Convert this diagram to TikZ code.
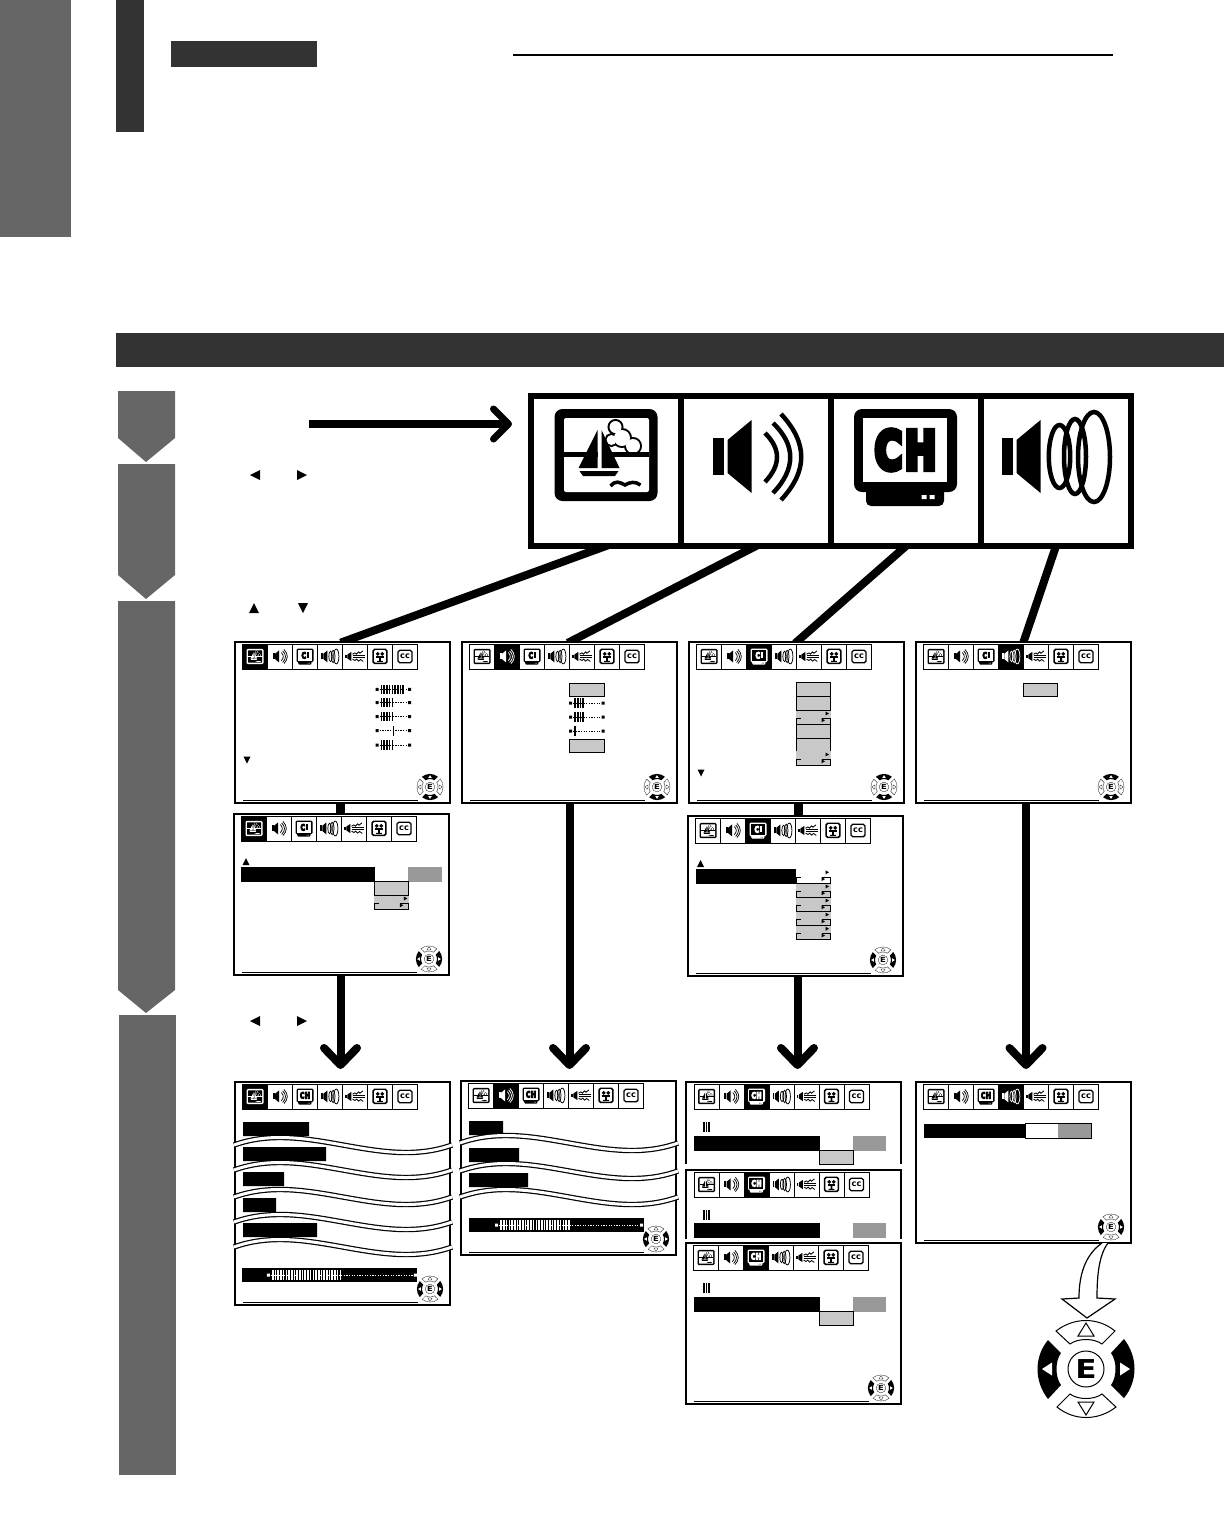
\documentclass[tikz,border=0pt]{standalone}
\usepackage{fontspec}
\usetikzlibrary{arrows.meta,positioning,backgrounds}
\newfontfamily\iconfont{DejaVu Sans Bold}
\newfontfamily\tvfont[FakeBold=12]{DejaVu Sans Bold}
\definecolor{stepgray}{HTML}{666666}
\definecolor{headgray}{HTML}{333333}
\definecolor{boxgray}{HTML}{C8C8C8}
\definecolor{midgray}{HTML}{999999}
\colorlet{iconfg}{black}
\colorlet{iconbg}{white}
\tikzset{
  panelcell/.style={draw,fill=white,line width=6pt,minimum width=150pt,minimum height=150pt,outer sep=0pt,inner sep=0pt},
  screen/.style={draw,fill=white,line width=2.5pt,minimum width=215pt,anchor=north west,outer sep=0pt,inner sep=0pt},
  hairrule/.style={line width=1pt},
  icontext/.style={text=iconfg,inner sep=0pt},
  link/.style={line width=8pt},
  linkhead/.style={line width=8pt,-{Straight Barb[length=17pt,width=33pt,line width=8pt,round]}},
  wave/.style={line width=1.2pt,double=white,double distance=3pt}
}
% big icons, drawn round (0,0)
\newcommand{\boaticon}{%
  \fill[iconfg,rounded corners=8pt] (-51.5,-46) rectangle (51.5,46);
  \fill[iconbg,rounded corners=2pt] (-42,-37) rectangle (43,37);
  \foreach \cx/\cy/\cr in {9.5/-28/6,16/-17/8,5.5/-15/5,27/-9/7}{\draw[iconfg,line width=4pt] (\cx,\cy) circle[radius=\cr];}
  \foreach \cx/\cy/\cr in {9.5/-28/6,16/-17/8,5.5/-15/5,27/-9/7}{\fill[iconbg] (\cx,\cy) circle[radius=\cr];}
  \fill[iconbg] (-1,-3) rectangle (40,3);
  \fill[iconfg] (-42,-3) rectangle (43,1.5);
  \fill[iconfg] (-8.5,-25) -- (-27.5,13) -- (-8.5,13) -- cycle;
  \fill[iconbg] (-8.5,-25) rectangle (-4.5,13);
  \fill[iconfg] (-4.5,-25) -- (13.5,13) -- (-4.5,13) -- cycle;
  \fill[iconfg] (-26.5,16) -- (12.5,16) -- (9,21) -- (-23,21) -- cycle;
  \draw[iconfg,line width=3.5pt] (4.5,31) .. controls (10,25) and (13,27) .. (19,30) .. controls (24,27) and (29,26) .. (34.5,30);
}
\newcommand{\conepart}{%
  \fill[iconfg] (-44,-19) rectangle (-33,18);
  \fill[iconfg] (-29.5,-17) -- (-5.4,-37) -- (-5.4,36) -- (-29.5,16) -- cycle;
}
\newcommand{\soundicon}{%
  \conepart
  \draw[iconfg,line width=4.5pt] (8,-24) .. controls (24,-8) and (24,8) .. (8,25);
  \draw[iconfg,line width=4.5pt] (16,-34) .. controls (39,-12) and (39,12) .. (16,36);
  \draw[iconfg,line width=4.5pt] (24,-43) .. controls (51,-14) and (51,14) .. (24,43);
}
\newcommand{\tvlabel}{C\kern.07em H}
\newcommand{\blocklabel}{C\kern.1em\rule{.3em}{.73em}}
\newcommand{\tvicon}{%
  \fill[iconfg,rounded corners=8pt] (-51.5,-48) rectangle (51.5,35);
  \fill[iconbg] (-42.5,-39) rectangle (41.5,25);
  \fill[iconfg,rounded corners=5pt] (-39.5,30) rectangle (38.5,49);
  \fill[iconfg] (-39.5,30) rectangle (38.5,40);
  \fill[iconbg] (16,38) rectangle (21,42) (24,38) rectangle (29,42);
  \node[icontext] (tvtext) at (0,-7) {\tvfont\fontsize{52}{54}\selectfont\scalebox{.72}[1]{\tvlabel}};
}
\newcommand{\surroundicon}{%
  \begin{scope}[xshift=-10pt]\conepart\end{scope}
  \draw[iconfg,line width=4.5pt] (3.5,-.5) ellipse[x radius=10.7,y radius=31.5];
  \draw[iconfg,line width=4.5pt] (19,-.5) ellipse[x radius=11,y radius=37.5];
  \draw[iconfg,line width=4.5pt] (38,0) ellipse[x radius=16,y radius=45];
}
\newcommand{\wavesicon}{%
  \fill[iconfg] (-60,-12) rectangle (-50,12);
  \fill[iconfg] (-46,-12) -- (-22,-28) -- (-22,28) -- (-46,12) -- cycle;
  \draw[iconfg,line width=5pt] (-15,-14) -- (0,-22) -- (8,-14) -- (22,-28) -- (30,-20) -- (48,-34);
  \draw[iconfg,line width=5pt] (-15,-6) -- (58,-6) (-15,6) -- (58,6);
  \draw[iconfg,line width=5pt] (-15,16) -- (0,24) -- (10,16) -- (22,28) -- (34,18) -- (50,30);
}
\newcommand{\movieicon}{%
  \draw[iconfg,line width=9pt,rounded corners=10pt] (-42,-44) rectangle (42,42);
  \fill[iconfg] (-14,-16) circle[radius=12] (14,-16) circle[radius=12];
  \fill[iconfg] (-22,-6) rectangle (24,10);
  \fill[iconfg] (-6,10) rectangle (6,26) (-18,26) rectangle (18,32);
}
\newcommand{\ccicon}{%
  \draw[iconfg,line width=8pt,rounded corners=10pt] (-42,-38) rectangle (42,38);
  \node[icontext] (cctext) at (0,-3) {\iconfont\fontsize{50}{52}\selectfont cc};
}
% one row of seven small icons
\newcommand{\menubar}[4]{%
  \renewcommand{\tvlabel}{#4}%
  \foreach \n/\ic in {1/\boaticon,2/\soundicon,3/\tvicon,4/\surroundicon,5/\wavesicon,6/\movieicon,7/\ccicon}{
    \ifnum\n=#3\relax \colorlet{iconfg}{white}\colorlet{iconbg}{black}\fi
    \draw[fill=iconbg,line width=.8pt] (#1+25*\n-25,#2) rectangle +(25,25);
    \begin{scope}[transform canvas={shift={(#1+25*\n-12.5,#2+12.5)},scale=.165}]
      \ic
    \end{scope}
  }
}
% pad: filled buttons, then open buttons
\newcommand{\dpadicon}[2]{%
  \foreach \a in {#1}{
    \begin{scope}[rotate=\a]
      \fill (-38,-29) -- (-25,-16) .. controls (-31,-8) and (-31,8) .. (-25,16) -- (-38,30) .. controls (-52,12) and (-52,-12) .. (-38,-29) -- cycle;
      \fill[white] (-44,0) -- (-34,-6.5) -- (-34,6.5) -- cycle;
    \end{scope}
  }
  \foreach \a in {#2}{
    \begin{scope}[rotate=\a]
      \draw[line width=1pt] (-38,-29) -- (-25,-16) .. controls (-31,-8) and (-31,8) .. (-25,16) -- (-38,30) .. controls (-52,12) and (-52,-12) .. (-38,-29) -- cycle;
      \draw[line width=1pt] (-46,0) -- (-33,-8) -- (-33,8) -- cycle;
    \end{scope}
  }
  \draw[line width=1pt] (0,0) circle[radius=18];
  \node[inner sep=0pt] (padtext) at (0,0) {\iconfont\fontsize{26}{28}\selectfont\scalebox{1.2}[1]{E}};
}
\newcommand{\padud}{\dpadicon{90,270}{0,180}}
\newcommand{\padlr}{\dpadicon{0,180}{90,270}}
\newcommand{\smallpad}[3]{%
  \begin{scope}[transform canvas={shift={(#1,#2)},scale=.27}]
    #3
  \end{scope}
}
\newcommand{\tvscreen}[7]{%
  \node[screen,minimum height=#4pt] (#1) at (#2,#3) {};
  \menubar{#2+7.5}{#3+2}{#5}{#6}
  \draw[hairrule] (#2+8,#3+#4-3) -- (#2+183,#3+#4-3);
  \smallpad{#2+195}{#3+#4-16}{#7}
}
\newcommand{\levelbar}[5]{%
  \fill[#5] (#1-1.5,#2-1.5) rectangle +(3,3) (#1+#3-1.5,#2-1.5) rectangle +(3,3);
  \draw[#5,line width=1pt,dash pattern=on 1.3pt off 1.3pt] (#1,#2) -- (#1+#3,#2);
  \ifnum#4>0
    \foreach \t in {1,...,#4}{\fill[#5] (#1+1+2.7*\t,#2-4.7) rectangle +(1.6,9.4);}
  \fi
}
\newcommand{\graybox}[3]{\draw[fill=boxgray,line width=1pt] (#1,#2) rectangle (#1+34.5,#3);}
\newcommand{\bracketbox}[3]{%
  \fill[#3] (#1,#2) rectangle +(34.5,13.7);
  \fill (#1+29.5,#2+.8) -- (#1+33,#2+2.8) -- (#1+29.5,#2+4.8) -- cycle;
  \fill (#1+25.5,#2+7.6) -- (#1+29,#2+9.6) -- (#1+25.5,#2+11.6) -- cycle;
  \draw[line width=1pt] (#1+5,#2+8) -- (#1,#2+8) -- (#1,#2+13.7) -- (#1+34.5,#2+13.7) -- (#1+34.5,#2+8) -- (#1+26,#2+8);
}
\newcommand{\smalltri}[4]{\fill[shift={(#1,#2)},rotate=#3] (-#4,-#4) -- (#4,0) -- (-#4,#4) -- cycle;}
\newcommand{\wavecut}[3]{\draw[wave] (#1-1,#2) .. controls (#1+.33*#3,#2-26) and (#1+.67*#3,#2+26) .. (#1+#3+1,#2);}
\newcommand{\tickmark}[2]{\foreach \t in {0,2.7,5.4}{\fill (#1+\t,#2) rectangle +(1.5,10);}}
\newcommand{\choicerow}[3]{%
  \fill (#1,#2) rectangle (#1+#3,#2+14.5);
  \fill[white] (#1+#3,#2) rectangle +(33,14.5);
  \fill[midgray] (#1+#3+33,#2) rectangle +(33,14.5);
}
\begin{document}
\begin{tikzpicture}[x=1pt,y=-1pt]
\useasboundingbox (0,0) rectangle (1224,1519);
% page head
\fill[stepgray] (0,0) rectangle (71,237);
\fill[headgray] (116,0) rectangle (144,132);
\fill[headgray] (171,41) rectangle (317,67);
\draw[line width=2pt] (513,55) -- (1113,55);
\fill[headgray] (116,333) rectangle (1224,367);
% steps
\fill[stepgray] (118,391) -- (175,391) -- (175,438) -- (146,462) -- (118,438) -- cycle;
\fill[stepgray] (118,464) -- (175,464) -- (175,575) -- (146,599) -- (118,575) -- cycle;
\fill[stepgray] (118,601) -- (175,601) -- (175,990) -- (146,1013) -- (118,990) -- cycle;
\fill[stepgray] (119,1015) rectangle (176,1475);
\smalltri{255}{475}{180}{5}
\smalltri{302}{475}{0}{5}
\smalltri{254}{608}{90}{5}
\smalltri{303}{608}{270}{5}
\smalltri{255}{1021}{180}{5}
\smalltri{302}{1021}{0}{5}
% big icon panel
\node[panelcell] (cellA) at (606,471) {};
\node[panelcell,right=0pt of cellA] (cellB) {};
\node[panelcell,right=0pt of cellB] (cellC) {};
\node[panelcell,right=0pt of cellC] (cellD) {};
\begin{scope}[shift={(606,455)}]\boaticon\end{scope}
\begin{scope}[shift={(757,457)}]\soundicon\end{scope}
\begin{scope}[shift={(905.5,457)}]\tvicon\end{scope}
\begin{scope}[shift={(1056,457)}]\surroundicon\end{scope}
\coordinate (stepstart) at (309,424);
\draw[line width=8pt,-{Straight Barb[length=15pt,width=30pt,line width=7pt,round]}] (stepstart) -- ([xshift=-19pt]stepstart -| cellA.west);
% first row of screens
\tvscreen{scrAa}{235}{642}{161}{1}{\blocklabel}{\padud}
\levelbar{377}{689.3}{32.5}{9}{black}
\levelbar{377}{702.7}{32.5}{5}{black}
\levelbar{377}{716.7}{32.5}{5}{black}
\levelbar{377}{730.7}{32.5}{0}{black}
\fill (392.5,726) rectangle +(1,9.5);
\levelbar{377}{745}{32.5}{5}{black}
\smalltri{247}{760}{270}{3.5}
\tvscreen{scrBa}{462}{642}{161}{2}{\blocklabel}{\padud}
\graybox{569.5}{683}{696}
\levelbar{570.5}{703}{32.5}{4}{black}
\levelbar{570.5}{717}{32.5}{4}{black}
\levelbar{570.5}{731}{32.5}{1}{black}
\graybox{569.5}{739}{752}
\tvscreen{scrCa}{689}{642}{161}{3}{\blocklabel}{\padud}
\graybox{796}{682.5}{696.7}
\graybox{796}{696.7}{710.7}
\bracketbox{796}{710.7}{boxgray}
\graybox{796}{724.5}{738}
\fill[boxgray] (796,738) rectangle +(34.5,14);
\draw[line width=1pt] (796,751) -- (796,738) -- (830.5,738) -- (830.5,751);
\bracketbox{796}{751.7}{boxgray}
\smalltri{701}{773}{270}{3.5}
\tvscreen{scrDa}{916}{642}{161}{4}{\blocklabel}{\padud}
\graybox{1023}{683}{696}
% second row of screens
\tvscreen{scrAb}{234}{814}{161}{1}{\blocklabel}{\padlr}
\smalltri{246}{861.5}{90}{3.5}
\fill (241,867.3) rectangle (375,881.7);
\fill[midgray] (408.3,867.3) rectangle (441.7,881.7);
\graybox{374.3}{881.7}{895.7}
\bracketbox{374.3}{895.7}{boxgray}
\tvscreen{scrCb}{688}{816}{160}{3}{\blocklabel}{\padlr}
\smalltri{700.5}{863.5}{90}{3.5}
\fill (696,869) rectangle (796,884);
\bracketbox{796}{869.5}{white}
\bracketbox{796}{883.6}{boxgray}
\bracketbox{796}{897.7}{boxgray}
\bracketbox{796}{911.8}{boxgray}
\bracketbox{796}{925.9}{boxgray}
% last row of screens
\tvscreen{scrAc}{235}{1082}{223}{1}{C\kern.07em H}{\padlr}
\fill (243,1122) rectangle +(66,14) (243,1147) rectangle +(83,14) (243,1172) rectangle +(41,14) (243,1198) rectangle +(33,14) (243,1223) rectangle +(74,14);
\foreach \wy in {1145,1170,1197,1222,1247}{\wavecut{235}{\wy}{216}}
\fill (242,1268) rectangle (417,1282);
\levelbar{268.3}{1275}{147}{26}{white}
\tvscreen{scrBc}{461}{1081}{174}{2}{C\kern.07em H}{\padlr}
\fill (469,1121) rectangle +(34,14) (469,1148) rectangle +(50,14) (469,1173) rectangle +(59,14);
\foreach \wy in {1143,1171,1197}{\wavecut{461}{\wy}{216}}
\fill (469,1218) rectangle (644,1232);
\levelbar{496.7}{1225}{145}{26}{white}
% three parts of one screen
\node[screen,draw=none,minimum height=82pt] (scrCc) at (686,1082) {};
\draw[line width=2.5pt] (scrCc.south west) -- (scrCc.north west) -- (scrCc.north east) -- (scrCc.south east);
\menubar{694}{1084}{3}{C\kern.07em H}
\tickmark{703}{1122}
\choicerow{694}{1136.3}{125.5}
\graybox{819.3}{1150.7}{1164}
\node[screen,draw=none,minimum height=69pt] (scrCd) at (686,1170) {};
\draw[line width=2.5pt] (scrCd.south west) -- (scrCd.north west) -- (scrCd.north east) -- (scrCd.south east);
\menubar{694}{1172}{3}{C\kern.07em H}
\tickmark{703}{1210}
\choicerow{694}{1223.3}{125.5}
\tvscreen{scrCe}{686}{1243}{161}{3}{C\kern.07em H}{\padlr}
\tickmark{703}{1283}
\choicerow{694}{1297}{125.5}
\graybox{819.3}{1311.7}{1325}
\tvscreen{scrDc}{916}{1082}{161}{4}{C\kern.07em H}{\padlr}
\choicerow{924}{1123.5}{101}
\draw[line width=.8pt] (1025,1123.5) rectangle (1091,1138);
% big pad with its arrow
\draw[fill=white,line width=1.2pt] (1102,1243) .. controls (1085,1255) and (1079,1275) .. (1079,1298) -- (1062,1299) -- (1087,1318) -- (1115,1299) -- (1097,1298) .. controls (1097,1275) and (1099,1255) .. (1108,1243);
\begin{scope}[shift={(1086,1369)}]\padlr\end{scope}
% connectors, under the nodes
\begin{scope}[on background layer]
\draw[link,shorten <=-3pt,shorten >=-2pt] (cellA.south) -- (scrAa.north);
\draw[link,shorten <=-3pt,shorten >=-2pt] (cellB.south) -- (scrBa.north);
\draw[link,shorten <=-3pt,shorten >=-2pt] (cellC.south) -- (scrCa.north);
\draw[link,shorten <=-3pt,shorten >=-2pt] (cellD.south) -- (scrDa.north);
\draw[link,line width=9pt] ([xshift=-2pt]scrAa.south) -- ([xshift=-2pt]scrAa.south |- scrAb.north);
\draw[linkhead,shorten >=13pt] ([xshift=-1pt]scrAb.south) -- ([xshift=-1pt]scrAb.south |- scrAc.north);
\draw[linkhead,shorten >=12pt] (scrBa.south) -- (scrBa.south |- scrBc.north);
\draw[link,line width=9pt] ([xshift=1.5pt]scrCa.south) -- ([xshift=1.5pt]scrCa.south |- scrCb.north);
\draw[linkhead,shorten >=13pt] ([xshift=2pt]scrCb.south) -- ([xshift=2pt]scrCb.south |- scrCc.north);
\draw[linkhead,shorten >=13pt] ([xshift=2.5pt]scrDa.south) -- ([xshift=2.5pt]scrDa.south |- scrDc.north);
\end{scope}
\end{tikzpicture}
\end{document}
